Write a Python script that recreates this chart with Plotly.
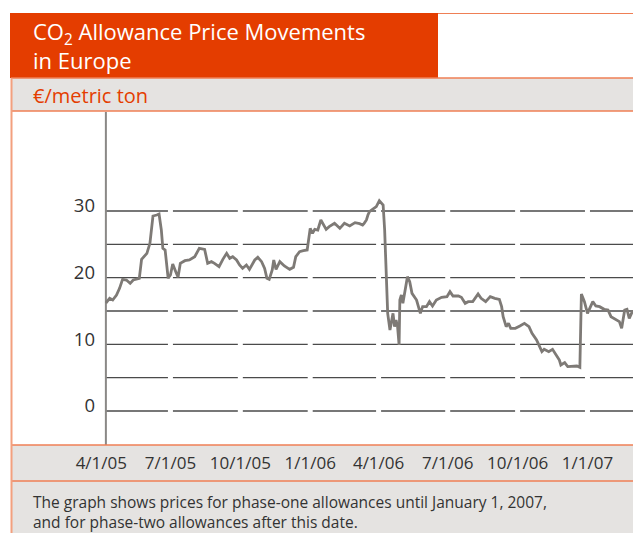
import plotly.graph_objects as go

# EUA price (euro per metric ton)
dates = [
    "2005-04-07", "2005-04-12", "2005-04-16", "2005-04-21", "2005-04-25", "2005-04-29",
    "2005-05-04", "2005-05-09", "2005-05-13", "2005-05-21", "2005-05-24", "2005-05-31",
    "2005-06-04", "2005-06-08", "2005-06-13", "2005-06-16", "2005-06-19", "2005-06-21",
    "2005-06-24", "2005-06-28", "2005-07-01", "2005-07-04", "2005-07-08", "2005-07-11",
    "2005-07-14", "2005-07-20", "2005-07-26", "2005-08-02", "2005-08-08", "2005-08-15",
    "2005-08-19", "2005-08-24", "2005-08-28", "2005-09-03", "2005-09-08", "2005-09-13",
    "2005-09-17", "2005-09-21", "2005-09-26", "2005-09-30", "2005-10-04", "2005-10-09",
    "2005-10-13", "2005-10-20", "2005-10-24", "2005-10-29", "2005-11-02", "2005-11-05",
    "2005-11-08", "2005-11-12", "2005-11-14", "2005-11-17", "2005-11-22", "2005-11-28",
    "2005-12-05", "2005-12-10", "2005-12-13", "2005-12-18", "2005-12-23", "2005-12-28",
    "2006-01-01", "2006-01-04", "2006-01-07", "2006-01-11", "2006-01-15", "2006-01-22",
    "2006-01-26", "2006-02-02", "2006-02-09", "2006-02-15", "2006-02-22", "2006-03-01",
    "2006-03-07", "2006-03-11", "2006-03-13", "2006-03-16", "2006-03-18", "2006-03-20",
    "2006-03-24", "2006-03-29", "2006-04-02", "2006-04-07", "2006-04-09", "2006-04-11",
    "2006-04-13", "2006-04-16", "2006-04-20", "2006-04-22", "2006-04-24", "2006-04-26",
    "2006-04-28", "2006-04-29", "2006-05-01", "2006-05-03", "2006-05-05", "2006-05-09",
    "2006-05-12", "2006-05-15", "2006-05-21", "2006-05-24", "2006-05-26", "2006-05-29",
    "2006-06-03", "2006-06-07", "2006-06-11", "2006-06-16", "2006-06-23", "2006-06-30",
    "2006-07-04", "2006-07-08", "2006-07-15", "2006-07-19", "2006-07-24", "2006-07-28",
    "2006-08-03", "2006-08-10", "2006-08-14", "2006-08-20", "2006-08-26", "2006-09-01",
    "2006-09-07", "2006-09-10", "2006-09-12", "2006-09-16", "2006-09-19", "2006-09-22",
    "2006-09-28", "2006-10-04", "2006-10-10", "2006-10-16", "2006-10-20", "2006-10-26",
    "2006-10-30", "2006-11-02", "2006-11-05", "2006-11-11", "2006-11-16", "2006-11-21",
    "2006-11-25", "2006-11-27", "2006-12-02", "2006-12-06", "2006-12-13", "2006-12-18",
    "2006-12-22", "2006-12-24", "2006-12-28", "2007-01-01", "2007-01-04", "2007-01-08",
    "2007-01-12", "2007-01-17", "2007-01-23", "2007-01-28", "2007-02-01", "2007-02-07",
    "2007-02-12", "2007-02-15", "2007-02-19", "2007-02-22", "2007-02-25", "2007-03-01",
    "2007-03-05", "2007-03-10", "2007-03-12",
]
prices = [
    16.2, 16.9, 16.65, 17.4, 18.4, 19.75,
    19.65, 19.15, 19.65, 19.9, 22.75, 23.65,
    25.15, 29.25, 29.4, 29.55, 27.15, 24.4,
    24.15, 19.9, 20.4, 22.05, 20.9, 20.05,
    22.15, 22.55, 22.65, 23.15, 24.4, 24.25,
    22.15, 22.4, 22.15, 21.65, 22.75, 23.65,
    22.9, 23.15, 22.65, 21.9, 21.4, 21.9,
    21.25, 22.65, 23.05, 22.4, 21.4, 19.9,
    19.75, 21.15, 22.65, 21.25, 22.4, 21.75,
    21.25, 21.55, 23.15, 23.9, 24.05, 24.15,
    27.4, 26.65, 27.25, 27.15, 28.65, 27.25,
    27.65, 28.15, 27.4, 28.15, 27.75, 28.25,
    28.1, 27.9, 28.15, 28.65, 29.4, 29.9,
    30.25, 30.65, 31.55, 30.9, 27.15, 19.65,
    14.65, 12.15, 14.65, 12.65, 13.65, 12.65,
    9.9, 16.65, 17.4, 16.15, 17.65, 20.15,
    19.4, 17.65, 16.65, 15.65, 14.65, 15.65,
    15.65, 16.4, 15.75, 16.65, 17.05, 17.15,
    17.9, 17.25, 17.25, 17.05, 16.15, 16.4,
    16.4, 17.55, 16.9, 16.4, 17.15, 16.9,
    16.75, 15.65, 14.15, 12.65, 13.15, 12.4,
    12.4, 12.75, 13.15, 12.65, 11.65, 10.65,
    9.65, 8.9, 9.25, 8.9, 9.25, 8.25,
    7.65, 6.9, 7.25, 6.65, 6.75, 6.75,
    6.55, 17.55, 16.4, 14.65, 15.4, 16.4,
    15.75, 15.65, 15.25, 15.15, 14.15, 13.75,
    13.4, 12.4, 15.15, 15.25, 13.9, 14.9,
    15.05, 15.4, 15.65,
]

quarter_ticks = ["2005-04-01", "2005-07-01", "2005-10-01", "2006-01-01",
                 "2006-04-01", "2006-07-01", "2006-10-01", "2007-01-01"]
quarter_labels = ["4/1/05", "7/1/05", "10/1/05", "1/1/06",
                  "4/1/06", "7/1/06", "10/1/06", "1/1/07"]
y_ticks = [0, 10, 20, 30]
y_grid = [0, 5, 10, 15, 20, 25, 30]

W, H = 641, 535
ORANGE = "#E43D00"
EDGE = "#EF7F55"
BAND = "#E5E3E1"
FONT = "Open Sans"
X_START, X_END = "2005-03-25", "2007-03-23"
Y_MIN, Y_MAX = -5.1, 44.85

# page pixel -> paper (figure sits 8px in from the page corner)
def fx(px):
    return (px - 8) / W


def fy(py):
    return 1 - (py - 8) / H


fig = go.Figure()
fig.add_trace(go.Scatter(x=dates, y=prices, mode="lines",
                         line=dict(color="#7E7A76", width=2.8),
                         showlegend=False, hoverinfo="skip"))

shapes = []
# header box and grey bands
shapes.append(dict(type="rect", xref="paper", yref="paper", x0=fx(10), x1=fx(438),
                   y0=fy(13), y1=fy(78), fillcolor=ORANGE, line_width=0, layer="below"))
for top, bot in [(78, 111), (445, 481), (481, 533)]:
    shapes.append(dict(type="rect", xref="paper", yref="paper", x0=fx(11), x1=fx(660),
                       y0=fy(top), y1=fy(bot), fillcolor=BAND, line_width=0, layer="below"))
for yy in [78, 111, 445, 481]:
    shapes.append(dict(type="line", xref="paper", yref="paper", x0=fx(11), x1=fx(660),
                       y0=fy(yy), y1=fy(yy), line=dict(color=EDGE, width=1.5)))
shapes.append(dict(type="line", xref="paper", yref="paper", x0=fx(438), x1=fx(660),
                   y0=fy(13.5), y1=fy(13.5), line=dict(color=EDGE, width=1.2)))
shapes.append(dict(type="line", xref="paper", yref="paper", x0=fx(11.5), x1=fx(11.5),
                   y0=fy(78), y1=fy(533), line=dict(color="#F3A07E", width=2)))

# horizontal grid from the first price onwards, broken at each quarter
for v in y_grid:
    shapes.append(dict(type="line", xref="x", yref="y", x0=dates[0], x1=X_END, y0=v, y1=v,
                       line=dict(color="#4A4A4A", width=1.4), layer="below"))
for d in quarter_ticks[1:]:
    shapes.append(dict(type="line", xref="x", yref="y", x0=d, x1=d, y0=Y_MIN, y1=Y_MAX,
                       line=dict(color="white", width=5), layer="below"))
shapes.append(dict(type="line", xref="x", yref="y", x0=dates[0], x1=dates[0],
                   y0=Y_MIN, y1=Y_MAX, line=dict(color="#8A8886", width=2), layer="below"))

annotations = [
    dict(text="CO<sub>2</sub> Allowance Price Movements<br>in Europe", xref="paper",
         yref="paper", x=fx(31), y=fy(14), xanchor="left", yanchor="top", align="left",
         showarrow=False, font=dict(family=FONT, size=22, color="white")),
    dict(text="€/metric ton", xref="paper", yref="paper", x=fx(31), y=fy(96),
         xanchor="left", yanchor="middle", showarrow=False,
         font=dict(family=FONT, size=20, color=ORANGE)),
    dict(text="The graph shows prices for phase-one allowances until January 1, 2007,"
              "<br>and for phase-two allowances after this date.",
         xref="paper", yref="paper", x=fx(31), y=fy(489), xanchor="left", yanchor="top",
         align="left", showarrow=False, font=dict(family=FONT, size=15.5, color="#333333")),
]

fig.update_layout(
    width=W, height=H,
    margin=dict(l=0, r=0, t=0, b=0, autoexpand=False),
    paper_bgcolor="white", plot_bgcolor="white",
    font=dict(family=FONT, color="#333333"),
    shapes=shapes, annotations=annotations,
    xaxis=dict(domain=[fx(96), 1], range=[X_START, X_END],
               tickvals=quarter_ticks, ticktext=quarter_labels, showgrid=False,
               zeroline=False, showline=False, ticks="", ticklabelstandoff=6,
               tickfont=dict(size=17, color="#333333")),
    yaxis=dict(domain=[fy(445), fy(112)], range=[Y_MIN, Y_MAX],
               tickvals=y_ticks, showgrid=False, zeroline=False, showline=False,
               ticks="", ticklabelshift=-5, tickfont=dict(size=18.5, color="#333333")),
)

fig.write_html("out.html")
